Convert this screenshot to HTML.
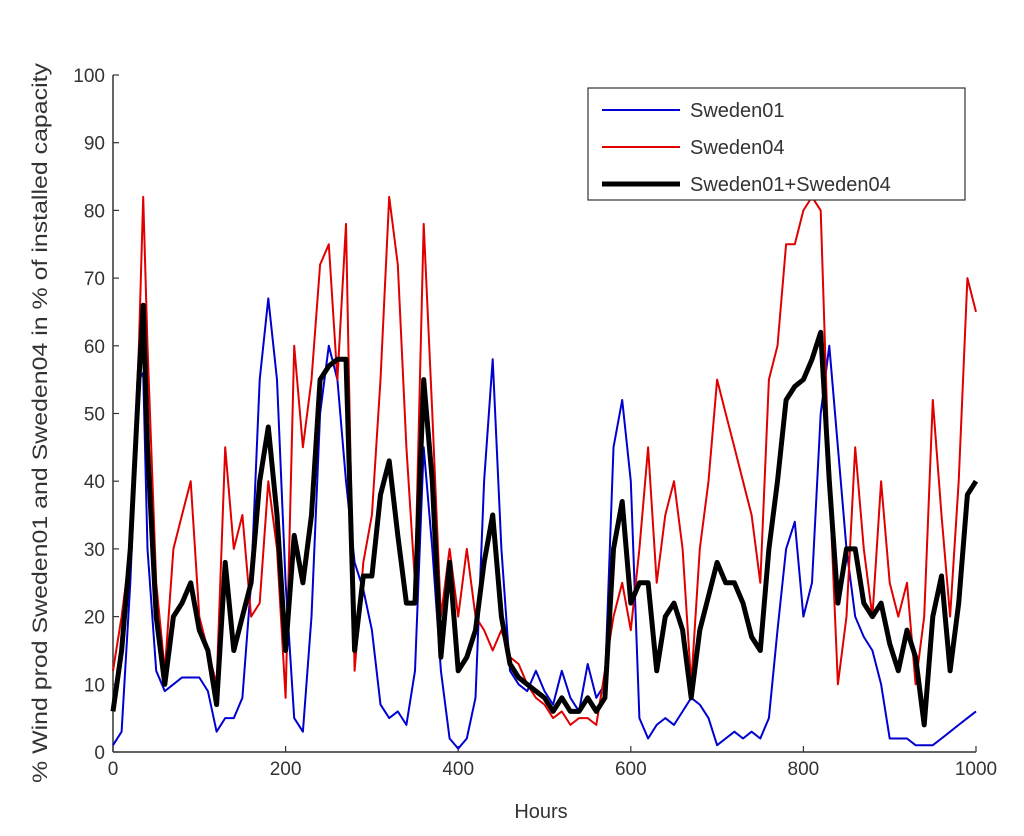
<!DOCTYPE html>
<html><head><meta charset="utf-8"><style>
body{margin:0;background:#fff;}
svg{display:block;font-family:"Liberation Sans",Arial,sans-serif;}
</style></head><body>
<svg id="chart" width="1024" height="836" viewBox="0 0 1024 836">
<rect width="1024" height="836" fill="#fff"/>
<g id="axes"></g>
<g id="series"></g>
<text x="541" y="818" font-size="20" text-anchor="middle" fill="#333">Hours</text>
<text transform="translate(47,423) rotate(-90)" font-size="21" text-anchor="middle" textLength="720" lengthAdjust="spacingAndGlyphs" fill="#333">% Wind prod Sweden01 and Sweden04 in % of installed capacity</text>
<g>
<rect x="588" y="88" width="377" height="112" fill="#fff" stroke="#333" stroke-width="1.2"/>
<line x1="602" y1="110" x2="680" y2="110" stroke="#0000d0" stroke-width="2"/>
<text x="690" y="117" font-size="20" fill="#333">Sweden01</text>
<line x1="602" y1="147" x2="680" y2="147" stroke="#e00000" stroke-width="2"/>
<text x="690" y="154" font-size="20" fill="#333">Sweden04</text>
<line x1="602" y1="184" x2="680" y2="184" stroke="#000" stroke-width="5"/>
<text x="690" y="191" font-size="20" fill="#333">Sweden01+Sweden04</text>
</g>
</svg>
<script>
const hours=[0,10,20,30,35,40,50,60,70,80,90,100,110,120,130,140,150,160,170,180,190,200,210,220,230,240,250,260,270,280,290,300,310,320,330,340,350,360,370,380,390,400,410,420,430,440,450,460,470,480,490,500,510,520,530,540,550,560,570,580,590,600,610,620,630,640,650,660,670,680,690,700,710,720,730,740,750,760,770,780,790,800,810,820,830,840,850,860,870,880,890,900,910,920,930,940,950,960,970,980,990,1000];
const sweden01=[1,3,25,55,56,30,12,9,10,11,11,11,9,3,5,5,8,25,55,67,55,25,5,3,20,50,60,55,40,28,24,18,7,5,6,4,12,45,30,12,2,0.5,2,8,40,58,30,12,10,9,12,9,7,12,8,6,13,8,10,45,52,40,5,2,4,5,4,6,8,7,5,1,2,3,2,3,2,5,18,30,34,20,25,50,60,45,30,20,17,15,10,2,2,2,1,1,1,2,3,4,5,6];
const sweden04=[12,20,30,60,82,60,25,12,30,35,40,20,15,10,45,30,35,20,22,40,30,8,60,45,55,72,75,55,78,12,28,35,55,82,72,45,25,78,50,20,30,20,30,20,18,15,18,14,13,10,8,7,5,6,4,5,5,4,12,20,25,18,30,45,25,35,40,30,10,30,40,55,50,45,40,35,25,55,60,75,75,80,82,80,40,10,20,45,30,20,40,25,20,25,10,20,52,35,20,40,70,65];
const combined=[6,15,30,55,66,45,20,10,20,22,25,18,15,7,28,15,20,25,40,48,35,15,32,25,35,55,57,58,58,15,26,26,38,43,32,22,22,55,40,14,28,12,14,18,28,35,20,13,11,10,9,8,6,8,6,6,8,6,8,30,37,22,25,25,12,20,22,18,8,18,23,28,25,25,22,17,15,30,40,52,54,55,58,62,40,22,30,30,22,20,22,16,12,18,14,4,20,26,12,22,38,40];
const xTicks=[0,200,400,600,800,1000];
const yTicks=[0,10,20,30,40,50,60,70,80,90,100];
const NS="http://www.w3.org/2000/svg";
const X0=113,X1=976,Y0=752,Y1=75;
function xs(v){return X0+(v/1000)*(X1-X0);}
function ys(v){return Y0-(v/100)*(Y0-Y1);}
const axes=document.getElementById('axes');
function mk(tag,attrs,parent){const e=document.createElementNS(NS,tag);for(const k in attrs)e.setAttribute(k,attrs[k]);parent.appendChild(e);return e;}
const yAxis=mk('line',{x1:X0,y1:Y0,x2:X0,y2:Y1,stroke:'#333','stroke-width':1.5},axes);


const xAxis=mk('line',{x1:X0,y1:Y0,x2:X1,y2:Y0,stroke:'#333','stroke-width':1.5},axes);


yTicks.forEach(t=>{
  const y=ys(t);
  const tk=mk('line',{x1:X0,y1:y,x2:X0+6,y2:y,stroke:'#333','stroke-width':1.2},axes);
  
  
  const lb=mk('text',{x:X0-8,y:y+7,'font-size':19,'text-anchor':'end',fill:'#333'},axes);
  
  
  lb.textContent=t;
});
xTicks.forEach(t=>{
  const x=xs(t);
  const tk=mk('line',{x1:x,y1:Y0,x2:x,y2:Y0-6,stroke:'#333','stroke-width':1.2},axes);
  
  
  const lb=mk('text',{x:x,y:Y0+23,'font-size':19,'text-anchor':'middle',fill:'#333'},axes);
  
  
  lb.textContent=t;
});
const sg=document.getElementById('series');
function drawLine(vals,color,w,name){
  const pts=hours.map((h,i)=>xs(h).toFixed(1)+','+ys(vals[i]).toFixed(1)).join(' ');
  const p=mk('polyline',{points:pts,fill:'none',stroke:color,'stroke-width':w,'stroke-linejoin':'round'},sg);
  
  
}
drawLine(sweden01,'#0000d0',2,'line-sweden01');
drawLine(sweden04,'#e00000',2,'line-sweden04');
drawLine(combined,'#000',5,'line-sweden01-plus-sweden04');
</script>
</body></html>
